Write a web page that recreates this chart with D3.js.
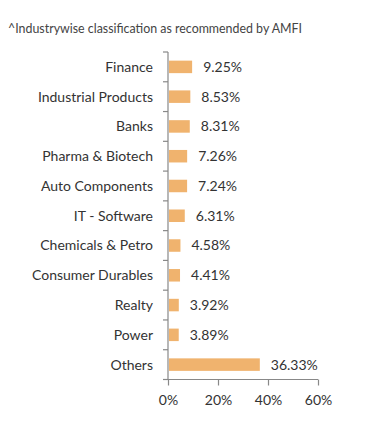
<!DOCTYPE html>
<html><head><meta charset="utf-8">
<script src="https://cdn.jsdelivr.net/npm/d3@7"></script>
<style>body{margin:0;background:#fff;}svg{display:block;font-family:Lato,"Open Sans",sans-serif;}</style>
</head><body>
<svg id="c" width="391" height="445"></svg>
<script>
const title = "^Industrywise classification as recommended by AMFI";
const categories = ["Finance","Industrial Products","Banks","Pharma & Biotech","Auto Components","IT - Software","Chemicals & Petro","Consumer Durables","Realty","Power","Others"];
const values = [9.25,8.53,8.31,7.26,7.24,6.31,4.58,4.41,3.92,3.89,36.33];
const xTicks = [0,20,40,60];

const svg = d3.select("#c");
const x = d3.scaleLinear().domain([0,60]).range([168,318]);
const y = d3.scaleBand().domain(categories).range([52,379.5]).paddingInner(0.58).paddingOuter(0.29);

svg.append("text").attr("x",8).attr("y",33).attr("font-size",12.4).attr("fill","#444").text(title);

// y axis
const yAxis = svg.append("g").attr("transform","translate(168,0)");
yAxis.append("line").attr("x1",0).attr("x2",0).attr("y1",52).attr("y2",379.5).attr("stroke","#888").attr("stroke-width",1.2);
d3.range(categories.length+1).forEach(i=>{
  const yy = 52 + i*(327.5/categories.length);
  yAxis.append("line").attr("x1",-5).attr("x2",0).attr("y1",yy).attr("y2",yy).attr("stroke","#888").attr("stroke-width",1.2);
});
yAxis.selectAll("text.cat").data(categories).join("text")
  .attr("x",-15).attr("y",d=>y(d)+y.bandwidth()/2).attr("dy","0.35em")
  .attr("text-anchor","end").attr("font-size",14).attr("fill","#333").text(d=>d);

// x axis
const xAxis = svg.append("g").attr("transform","translate(0,379.5)")
  .call(d3.axisBottom(x).tickValues(xTicks).tickSize(6).tickFormat(d=>d+"%"));
xAxis.select(".domain").attr("stroke","#888").attr("stroke-width",1.2).attr("d","M163,0H318");
xAxis.selectAll(".tick line").attr("stroke","#888").attr("stroke-width",1.2);
xAxis.selectAll(".tick text").attr("font-size",14).attr("fill","#333").attr("font-family","Lato,'Open Sans',sans-serif").attr("dy","1.15em");

// bars
svg.selectAll("rect.bar").data(values).join("rect")
  .attr("x",x(0)+1).attr("y",(d,i)=>y(categories[i]))
  .attr("width",d=>x(d)-x(0)).attr("height",y.bandwidth())
  .attr("fill","#F0B36E");

svg.selectAll("text.val").data(values).join("text")
  .attr("x",d=>x(d)+12).attr("y",(d,i)=>y(categories[i])+y.bandwidth()/2).attr("dy","0.35em")
  .attr("font-size",14).attr("fill","#333").text(d=>d.toFixed(2)+"%");
</script>
</body></html>
